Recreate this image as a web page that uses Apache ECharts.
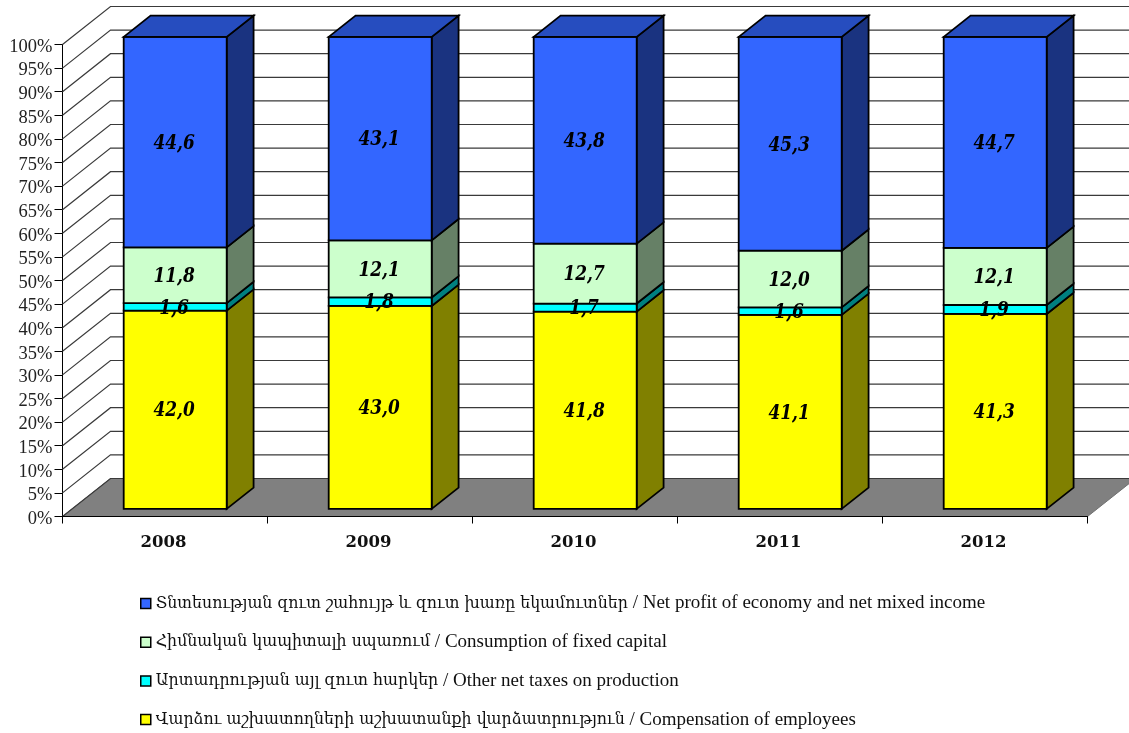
<!DOCTYPE html>
<html><head><meta charset="utf-8">
<script src="https://cdn.jsdelivr.net/npm/echarts@6/dist/echarts.min.js"></script>
<style>html,body{margin:0;padding:0;background:#fff}#c{width:1129px;height:733px}</style>
</head><body><div id="c"></div>
<script>
const years = ['2008','2009','2010','2011','2012'];
const compensation = [42.0,43.0,41.8,41.1,41.3];
const otherTaxes = [1.6,1.8,1.7,1.6,1.9];
const fixedCapital = [11.8,12.1,12.7,12.0,12.1];
const netProfit = [44.6,43.1,43.8,45.3,44.7];
const yTicks = [0,5,10,15,20,25,30,35,40,45,50,55,60,65,70,75,80,85,90,95,100];
const nameCompensation = 'Վարձու աշխատողների աշխատանքի վարձատրություն / Compensation of employees';
const nameTaxes = 'Արտադրության այլ զուտ հարկեր / Other net taxes on production';
const nameCapital = 'Հիմնական կապիտալի սպառում / Consumption of fixed capital';
const nameProfit = 'Տնտեսության զուտ շահույթ և զուտ խառը եկամուտներ / Net profit of economy and net mixed income';

const DEPTH_X = 48, DEPTH_Y = -38;      // full depth of the 3D box
const NEAR = 0.2, FAR = 0.76;           // bars span this part of the depth
const BAR_W = 103, BAR_SHIFT = 0.6;
const SERIF = '"Liberation Serif","DejaVu Serif",serif';

const layers = [
  {name:nameCompensation, values:compensation, front:'#FFFF00', side:'#808000', top:'#BFBF00'},
  {name:nameTaxes,        values:otherTaxes,   front:'#00FFFF', side:'#008080', top:'#00BFBF'},
  {name:nameCapital,      values:fixedCapital, front:'#CCFFCC', side:'#668066', top:'#99BF99'},
  {name:nameProfit,       values:netProfit,    front:'#3366FF', side:'#1A3380', top:'#264DBF'}
];

function stackedRows(values, li){
  return values.map((v,i)=>{
    let s=0; for(let k=0;k<li;k++) s+=layers[k].values[i];
    return [i, s, s+v, v];
  });
}
const edge={stroke:'#000',lineWidth:1.8,lineJoin:'miter'};
function barItem(li){
  return function(params, api){
    const c=api.value(0), a=api.coord([c,api.value(1)]), b=api.coord([c,api.value(2)]);
    const nx=NEAR*DEPTH_X+BAR_SHIFT, ny=NEAR*DEPTH_Y, fx=(FAR-NEAR)*DEPTH_X, fy=(FAR-NEAR)*DEPTH_Y;
    const l=a[0]+nx-BAR_W/2, r=a[0]+nx+BAR_W/2, y0=a[1]+ny, y1=b[1]+ny;
    const L=layers[li];
    const kids=[
      {type:'polygon',shape:{points:[[r,y0],[r+fx,y0+fy],[r+fx,y1+fy],[r,y1]]},style:Object.assign({fill:L.side},edge)},
      {type:'rect',shape:{x:l,y:y1,width:BAR_W,height:y0-y1},style:Object.assign({fill:L.front},edge)}
    ];
    if(li===layers.length-1) kids.push({type:'polygon',shape:{points:[[l,y1],[l+fx,y1+fy],[r+fx,y1+fy],[r,y1]]},style:Object.assign({fill:L.top},edge)});
    return {type:'group',children:kids};
  };
}
function labelItem(params, api){
  const c=api.value(0), a=api.coord([c,api.value(1)]), b=api.coord([c,api.value(2)]);
  return {type:'text',x:a[0]+NEAR*DEPTH_X-0.5,y:(a[1]+b[1])/2+NEAR*DEPTH_Y+1.5,scaleY:1.18,style:{
    x:0,y:0,
    text:api.value(3).toFixed(1).replace('.',','),
    font:'italic bold 17px "DejaVu Serif",serif',fill:'#000',align:'center',verticalAlign:'middle'
  }};
}
function floorItem(params, api){
  const g=params.coordSys, y=g.y+g.height, x=g.x, w=g.width;
  return {type:'polygon',shape:{points:[[x,y],[x+DEPTH_X,y+DEPTH_Y],[x+w+DEPTH_X,y+DEPTH_Y],[x+w,y]]},
    style:{fill:'#808080',stroke:'#707070',lineWidth:1}};
}
function wallItem(params, api){
  const g=params.coordSys, y=api.coord([0,api.value(0)])[1], x=g.x, w=g.width;
  return {type:'polyline',shape:{points:[[x,y],[x+DEPTH_X,y+DEPTH_Y],[x+w+DEPTH_X,y+DEPTH_Y]]},
    style:{fill:null,stroke:'#3a3a3a',lineWidth:1.2}};
}
const series=[
  {type:'custom',name:'floor',renderItem:floorItem,data:[[0]],encode:{y:0},z:1,silent:true,clip:false},
  {type:'custom',name:'wall',renderItem:wallItem,data:yTicks.map(v=>[v]),encode:{y:0},z:2,silent:true,clip:false}
];
layers.forEach((L,li)=>series.push({type:'custom',name:L.name,renderItem:barItem(li),
  data:stackedRows(L.values,li),encode:{x:0,y:[1,2]},z:10+li,itemStyle:{color:L.front},clip:false,silent:true}));
layers.forEach((L,li)=>series.push({type:'custom',name:'label'+li,renderItem:labelItem,
  data:stackedRows(L.values,li),encode:{x:0,y:[1,2]},z:30,clip:false,silent:true}));

const chart=echarts.init(document.getElementById('c'),null,{renderer:'canvas'});
chart.setOption({
  animation:false,backgroundColor:'#fff',
  grid:{left:62.5,top:44.5,width:1025,height:472,containLabel:false},
  xAxis:{type:'category',data:years,boundaryGap:true,
    axisLine:{show:true,lineStyle:{color:'#000',width:1.2}},
    axisTick:{show:true,alignWithLabel:false,length:7,lineStyle:{color:'#000',width:1}},
    axisLabel:{margin:18,color:'#111',fontFamily:'"DejaVu Serif",serif',fontWeight:'bold',fontSize:16.5,padding:[0,3,0,0]},
    splitLine:{show:false},z:20},
  yAxis:{type:'value',min:0,max:100,interval:5,
    axisLine:{show:true,lineStyle:{color:'#000',width:1}},
    axisTick:{show:true,length:8,lineStyle:{color:'#000',width:1}},
    axisLabel:{margin:10,color:'#222',fontFamily:SERIF,fontSize:18.5,formatter:'{value}%',verticalAlign:'top',lineHeight:5},
    splitLine:{show:false}},
  legend:{orient:'vertical',left:135,top:589,height:144,itemGap:19.7,itemWidth:10,itemHeight:10,icon:'rect',selectedMode:false,
    itemStyle:{borderColor:'#000',borderWidth:1.5},
    formatter:function(n){const p=n.split(' / ');return '{a|'+p[0]+'}{b| / '+p[1]+'}';},
    textStyle:{color:'#111',lineHeight:18,rich:{
      a:{fontFamily:'"DejaVu Serif",serif',fontSize:15.8,color:'#111',lineHeight:18},
      b:{fontFamily:'"Liberation Serif",serif',fontSize:19,color:'#111',lineHeight:18}}},
    data:[nameProfit,nameCapital,nameTaxes,nameCompensation]},
  series:series
});
</script></body></html>
